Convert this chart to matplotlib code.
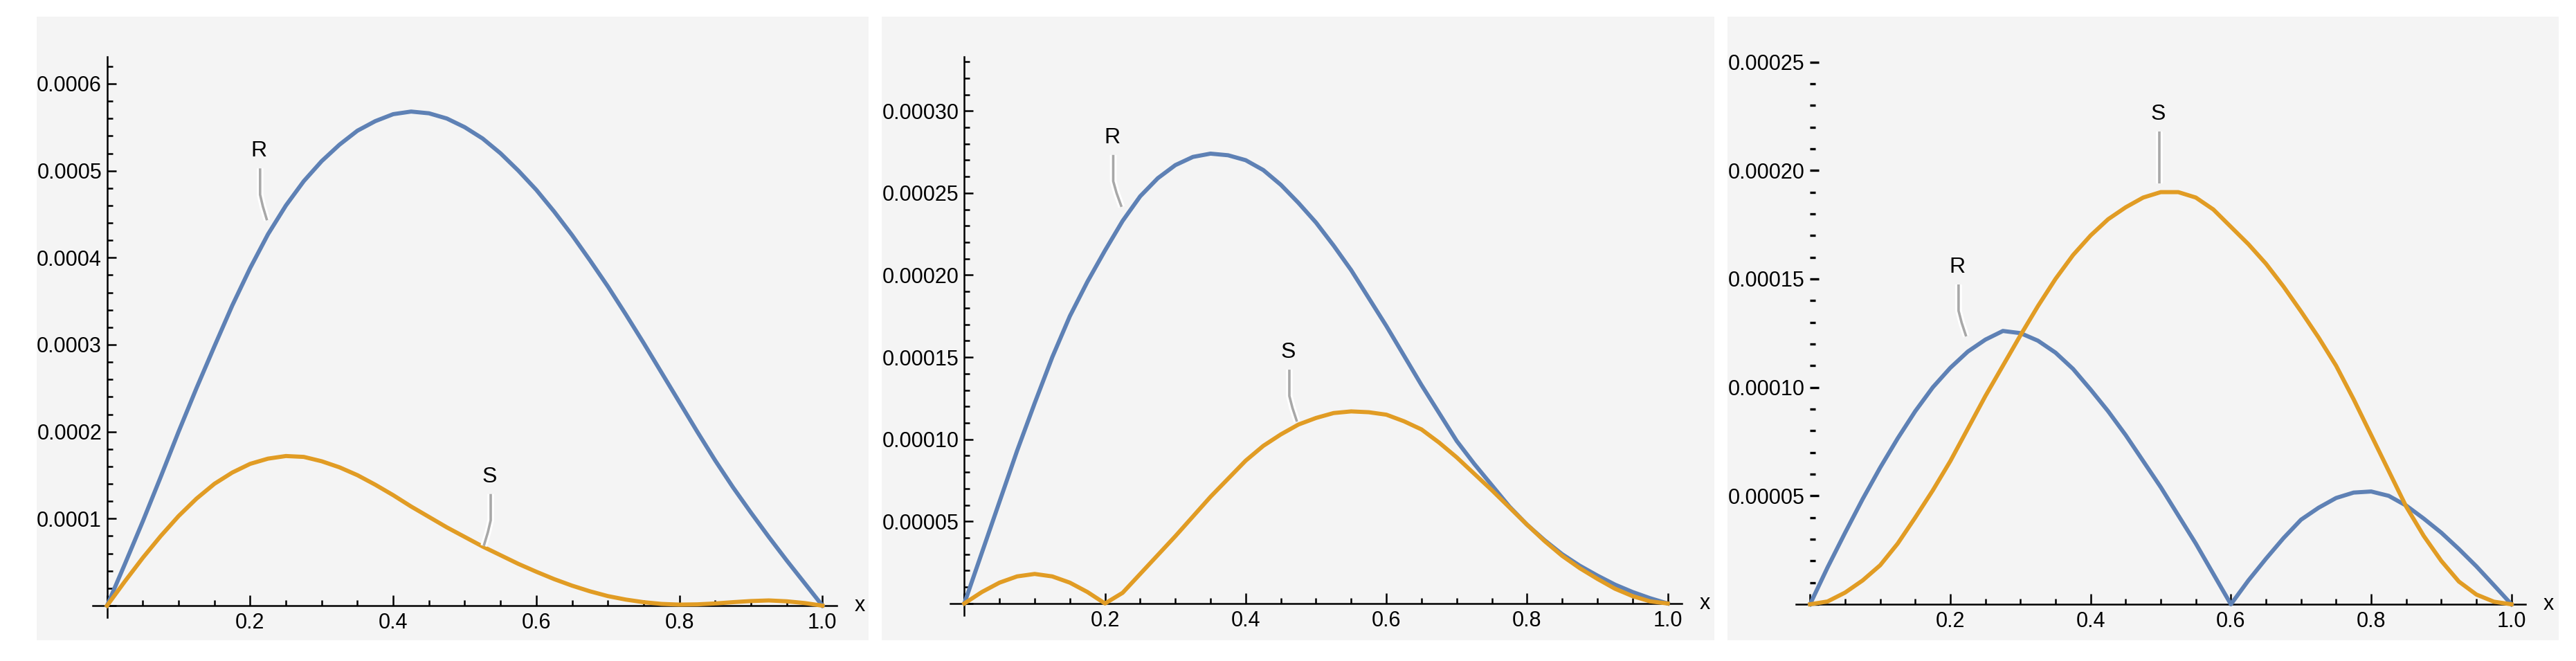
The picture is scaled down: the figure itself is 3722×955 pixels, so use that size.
import numpy as np
import matplotlib
matplotlib.use('Agg')
import matplotlib.pyplot as plt
import matplotlib.patheffects as pe
from matplotlib.lines import Line2D
from matplotlib.patches import Rectangle

####################### DATA #######################

# all curves are read at x = 0, 0.025, ..., 1.0
x = np.linspace(0, 1, 41)

# panel 1
r1 = [0, 4.8e-5, 9.7e-5, 1.48e-4, 2.0e-4, 2.5e-4, 2.98e-4, 3.45e-4, 3.88e-4, 4.27e-4,
      4.6e-4, 4.88e-4, 5.11e-4, 5.3e-4, 5.46e-4, 5.57e-4, 5.65e-4, 5.68e-4, 5.66e-4,
      5.6e-4, 5.5e-4, 5.37e-4, 5.2e-4, 5.0e-4, 4.78e-4, 4.53e-4, 4.26e-4, 3.97e-4,
      3.67e-4, 3.35e-4, 3.02e-4, 2.68e-4, 2.34e-4, 2.0e-4, 1.67e-4, 1.36e-4, 1.07e-4,
      7.9e-5, 5.2e-5, 2.6e-5, 0]
s1 = [0, 2.8e-5, 5.5e-5, 8.0e-5, 1.03e-4, 1.23e-4, 1.4e-4, 1.53e-4, 1.63e-4, 1.69e-4,
      1.72e-4, 1.71e-4, 1.66e-4, 1.59e-4, 1.5e-4, 1.39e-4, 1.27e-4, 1.14e-4, 1.02e-4,
      9.0e-5, 7.9e-5, 6.8e-5, 5.8e-5, 4.8e-5, 3.9e-5, 3.05e-5, 2.3e-5, 1.65e-5, 1.1e-5,
      7e-6, 4e-6, 2e-6, 1.2e-6, 1.5e-6, 2.5e-6, 4e-6, 5.3e-6, 6e-6, 5e-6, 3e-6, 0]

# panel 2
r2 = [0, 3.1e-5, 6.2e-5, 9.3e-5, 1.22e-4, 1.5e-4, 1.75e-4, 1.96e-4, 2.15e-4, 2.33e-4,
      2.48e-4, 2.59e-4, 2.67e-4, 2.72e-4, 2.74e-4, 2.73e-4, 2.7e-4, 2.64e-4, 2.55e-4,
      2.44e-4, 2.32e-4, 2.18e-4, 2.03e-4, 1.86e-4, 1.69e-4, 1.51e-4, 1.33e-4, 1.16e-4,
      9.9e-5, 8.5e-5, 7.2e-5, 5.9e-5, 4.8e-5, 3.85e-5, 3.0e-5, 2.3e-5, 1.7e-5, 1.15e-5,
      7e-6, 3.2e-6, 0]
s2 = [0, 7e-6, 1.27e-5, 1.65e-5, 1.8e-5, 1.65e-5, 1.27e-5, 7e-6, 0, 6.5e-6,
      1.8e-5, 2.95e-5, 4.1e-5, 5.3e-5, 6.5e-5, 7.6e-5, 8.7e-5, 9.6e-5, 1.03e-4,
      1.09e-4, 1.13e-4, 1.16e-4, 1.17e-4, 1.165e-4, 1.15e-4, 1.11e-4, 1.06e-4, 9.8e-5,
      8.9e-5, 7.9e-5, 6.9e-5, 5.85e-5, 4.8e-5, 3.8e-5, 2.9e-5, 2.15e-5, 1.5e-5, 9e-6,
      4.5e-6, 1.3e-6, 0]

# panel 3
r3 = [0, 1.7e-5, 3.3e-5, 4.85e-5, 6.3e-5, 7.65e-5, 8.9e-5, 1.0e-4, 1.09e-4, 1.165e-4,
      1.22e-4, 1.26e-4, 1.25e-4, 1.215e-4, 1.16e-4, 1.085e-4, 9.9e-5, 8.9e-5, 7.8e-5,
      6.6e-5, 5.4e-5, 4.1e-5, 2.8e-5, 1.4e-5, 0, 1.1e-5, 2.1e-5, 3.05e-5, 3.9e-5,
      4.45e-5, 4.9e-5, 5.15e-5, 5.2e-5, 5.0e-5, 4.55e-5, 3.95e-5, 3.3e-5, 2.55e-5,
      1.75e-5, 8.8e-6, 0]
s3 = [0, 1.3e-6, 5.4e-6, 1.1e-5, 1.8e-5, 2.8e-5, 4.0e-5, 5.25e-5, 6.6e-5, 8.1e-5,
      9.6e-5, 1.1e-4, 1.24e-4, 1.375e-4, 1.5e-4, 1.61e-4, 1.7e-4, 1.775e-4, 1.83e-4,
      1.875e-4, 1.9e-4, 1.9e-4, 1.875e-4, 1.82e-4, 1.74e-4, 1.66e-4, 1.57e-4, 1.465e-4,
      1.35e-4, 1.23e-4, 1.1e-4, 9.45e-5, 7.8e-5, 6.15e-5, 4.5e-5, 3.15e-5, 2.0e-5,
      1.05e-5, 4.5e-6, 1.2e-6, 0]

x_ticks = [0, 0.2, 0.4, 0.6, 0.8, 1.0]
x_ticklabels = ['', '0.2', '0.4', '0.6', '0.8', '1.0']

y1_ticks = [0, 1e-4, 2e-4, 3e-4, 4e-4, 5e-4, 6e-4]
y1_labels = ['', '0.0001', '0.0002', '0.0003', '0.0004', '0.0005', '0.0006']
y2_ticks = [0, 5e-5, 1e-4, 1.5e-4, 2e-4, 2.5e-4, 3e-4]
y2_labels = ['', '0.00005', '0.00010', '0.00015', '0.00020', '0.00025', '0.00030']
y3_ticks = [0, 5e-5, 1e-4, 1.5e-4, 2e-4, 2.5e-4]
y3_labels = ['', '0.00005', '0.00010', '0.00015', '0.00020', '0.00025']

####################### LAYOUT #######################

W, H = 3723, 955
BLUE = '#5e81b5'
ORANGE = '#e19c24'
BG = '#f4f4f4'

plt.rcParams['font.family'] = ['Liberation Sans', 'DejaVu Sans']

fig = plt.figure(figsize=(W / 100, H / 100), dpi=100)
fig.patch.set_facecolor('white')

# gray panel backgrounds (pixel boxes: left, top, right, bottom)
for (l, t, r, b) in [(53, 24, 1255, 925), (1274, 24, 2477, 925), (2496, 24, 3697, 925)]:
    fig.patches.append(Rectangle((l / W, 1 - b / H), (r - l) / W, (b - t) / H,
                                 transform=fig.transFigure, facecolor=BG,
                                 edgecolor='none', zorder=-5))


def add_axes_px(l, t, r, b):
    ax = fig.add_axes([l / W, 1 - b / H, (r - l) / W, (b - t) / H])
    ax.set_facecolor('none')
    return ax


def setup_axes(ax, ylim, yticks, ylabels, yminor, show_left=True):
    ax.set_xlim(-0.02, 1.02)
    ax.set_ylim(*ylim)
    for s in ['top', 'right']:
        ax.spines[s].set_visible(False)
    ax.spines['left'].set_position(('data', 0))
    ax.spines['bottom'].set_position(('data', 0))
    ax.spines['left'].set_linewidth(1.8)
    ax.spines['bottom'].set_linewidth(1.8)
    ax.spines['left'].set_visible(show_left)
    ax.set_xticks(x_ticks)
    ax.set_xticklabels(x_ticklabels)
    ax.set_xticks(np.arange(0.05, 1.0, 0.05), minor=True)
    ax.set_yticks(yticks)
    ax.set_yticklabels(ylabels)
    ax.set_yticks(yminor, minor=True)
    ax.tick_params(which='both', direction='in', width=1.8, labelsize=22)
    ax.tick_params(axis='x', which='major', length=10.8, pad=7)
    ax.tick_params(axis='x', which='minor', length=5.8)
    ax.tick_params(axis='y', which='major', length=9.5, pad=5.5)
    ax.tick_params(axis='y', which='minor', length=6)
    if not show_left:
        ax.tick_params(axis='y', which='both', width=2.4)
    ax.annotate('x', xy=(1, 0), xycoords=('axes fraction', 'data'),
                xytext=(26, 0), textcoords='offset pixels',
                ha='left', va='center', fontsize=22)


def callout(ax, text, x, y, dx):
    ex, ey = ax.transData.transform((x, y))
    pts = np.array([(ex, ey), (ex + dx * 0.6, ey + 20), (ex + dx, ey + 37),
                    (ex + dx, ey + 75)])
    inv = fig.transFigure.inverted()
    fp = inv.transform(pts)
    line = Line2D(fp[:, 0], fp[:, 1], transform=fig.transFigure, color='#a8a8a8',
                  lw=2.6, solid_capstyle='butt', solid_joinstyle='round', zorder=5,
                  path_effects=[pe.Stroke(linewidth=7, foreground='white'), pe.Normal()])
    fig.add_artist(line)
    lx, ly = inv.transform((ex + dx - 2, ey + 100))
    fig.text(lx, ly, text, ha='center', va='center', fontsize=23, zorder=6)


ax1 = add_axes_px(134, 82, 1209, 892)
ax2 = add_axes_px(1373, 82, 2430, 889)
ax3 = add_axes_px(2595, 82, 3649, 890)

setup_axes(ax1, (-1.35e-5, 6.31e-4), y1_ticks, y1_labels, np.arange(2e-5, 6.25e-4, 2e-5))
setup_axes(ax2, (-7.2e-6, 3.33e-4), y2_ticks, y2_labels, np.arange(1e-5, 3.35e-4, 1e-5))
setup_axes(ax3, (-5.4e-6, 2.524e-4), y3_ticks, y3_labels, np.arange(1e-5, 2.45e-4, 1e-5),
           show_left=False)

for ax, yr, ys in [(ax1, r1, s1), (ax2, r2, s2), (ax3, r3, s3)]:
    ax.plot(x, yr, color=BLUE, lw=4.3, zorder=3, solid_joinstyle='round')
    ax.plot(x, ys, color=ORANGE, lw=4.3, zorder=3, solid_joinstyle='round')

callout(ax1, 'R', 0.2236, 4.43e-4, -10)
callout(ax1, 'S', 0.5266, 6.87e-5, 10)
callout(ax2, 'R', 0.2235, 2.416e-4, -12)
callout(ax2, 'S', 0.4729, 1.108e-4, -11)
callout(ax3, 'S', 0.4985, 1.94e-4, 0)
callout(ax3, 'R', 0.2226, 1.235e-4, -11)

fig.savefig('out.png', dpi=100, facecolor='white')
